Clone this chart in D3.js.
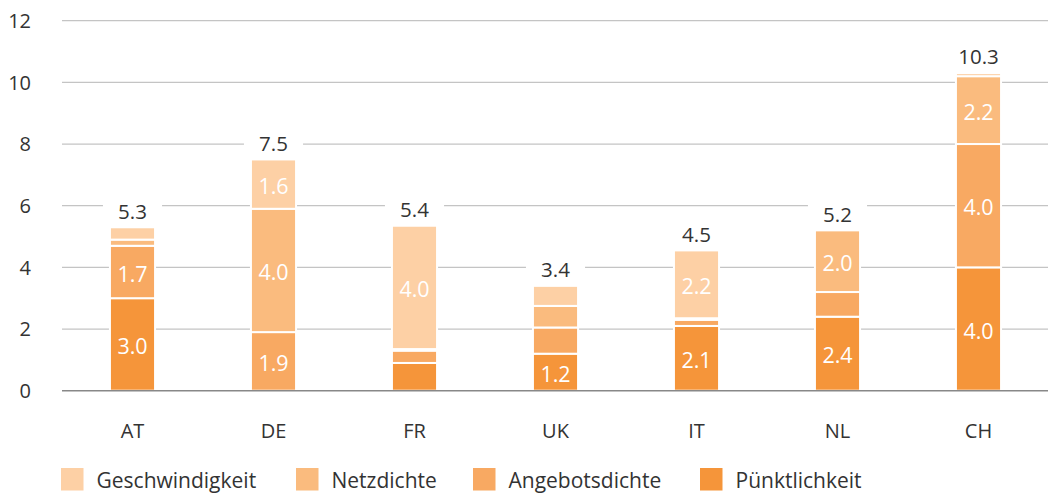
<!DOCTYPE html>
<html>
<head>
<meta charset="utf-8">
<script src="https://cdn.jsdelivr.net/npm/d3@7"></script>
<style>
  html, body { margin: 0; padding: 0; background: #fff; }
  svg { display: block; font-family: "Open Sans", "Noto Sans", sans-serif; }
</style>
</head>
<body>
<svg id="chart" width="1048" height="493"></svg>
<script>
// ---- data ----
const categories = ["AT", "DE", "FR", "UK", "IT", "NL", "CH"];
const seriesNames = ["Pünktlichkeit", "Angebotsdichte", "Netzdichte", "Geschwindigkeit"];
const puenktlichkeit = [3.0, 0.0, 0.9, 1.2, 2.1, 2.4, 4.0];
const angebotsdichte = [1.7, 1.9, 0.4, 0.85, 0.2, 0.8, 4.0];
const netzdichte = [0.2, 4.0, 0.05, 0.7, 0.05, 2.0, 2.2];
const geschwindigkeit = [0.4, 1.6, 4.0, 0.65, 2.2, 0.0, 0.1];
const totals = ["5.3", "7.5", "5.4", "3.4", "4.5", "5.2", "10.3"];
const yTicks = [0, 2, 4, 6, 8, 10, 12];
const legendOrder = ["Geschwindigkeit", "Netzdichte", "Angebotsdichte", "Pünktlichkeit"];

const colors = {
  "Pünktlichkeit": "#F5953A",
  "Angebotsdichte": "#F8A962",
  "Netzdichte": "#FABB7E",
  "Geschwindigkeit": "#FDD0A5"
};

const rows = categories.map((c, i) => ({
  cat: c,
  "Pünktlichkeit": puenktlichkeit[i],
  "Angebotsdichte": angebotsdichte[i],
  "Netzdichte": netzdichte[i],
  "Geschwindigkeit": geschwindigkeit[i],
  total: totals[i]
}));

const svg = d3.select("#chart");
const x = d3.scaleBand().domain(categories).range([62, 1049]).paddingInner(0.68).paddingOuter(0.34);
const y = d3.scaleLinear().domain([0, 12]).range([390.7, 20.7]);

// gridlines
const grid = svg.append("g");
grid.selectAll("line").data(yTicks.filter(d => d !== 0)).join("line")
  .attr("x1", 62).attr("x2", 1048)
  .attr("y1", d => y(d)).attr("y2", d => y(d))
  .attr("stroke", "#c4c4c4").attr("stroke-width", 1.3);

// y tick labels
svg.append("g").selectAll("text").data(yTicks).join("text")
  .attr("x", 31).attr("y", d => y(d))
  .attr("dy", "0.36em")
  .attr("text-anchor", "end")
  .attr("font-size", 20)
  .attr("fill", "#333")
  .text(d => d);

// stack
const stack = d3.stack().keys(seriesNames);
const stacked = stack(rows);

const bars = svg.append("g");
stacked.forEach(layer => {
  bars.append("g").attr("fill", colors[layer.key])
    .selectAll("rect").data(layer.filter(d => d[1] - d[0] > 0)).join("rect")
    .attr("x", d => x(d.data.cat))
    .attr("width", x.bandwidth())
    .attr("y", d => y(d[1]))
    .attr("height", d => y(d[0]) - y(d[1]))
    .attr("stroke", "#fff").attr("stroke-width", 2);
});

// inner labels
stacked.forEach(layer => {
  bars.append("g").selectAll("text").data(layer.filter(d => d[1] - d[0] >= 1)).join("text")
    .attr("x", d => x(d.data.cat) + x.bandwidth() / 2)
    .attr("y", d => (y(d[0]) + y(d[1])) / 2 + 2)
    .attr("dy", "0.36em")
    .attr("text-anchor", "middle")
    .attr("font-size", 21.5)
    .attr("fill", "#fff")
    .text(d => (d[1] - d[0]).toFixed(1));
});

// total labels with white background
const topLayer = stacked[stacked.length - 1];
const tg = svg.append("g");
tg.selectAll("rect").data(topLayer).join("rect")
  .attr("x", d => x(d.data.cat) - 7)
  .attr("width", x.bandwidth() + 14)
  .attr("y", d => y(d[1]) - 29)
  .attr("height", 26)
  .attr("fill", "#fff");
tg.selectAll("text").data(topLayer).join("text")
  .attr("x", d => x(d.data.cat) + x.bandwidth() / 2)
  .attr("y", d => y(d[1]) - 16)
  .attr("dy", "0.36em")
  .attr("text-anchor", "middle")
  .attr("font-size", 20.5)
  .attr("fill", "#333")
  .text(d => d.data.total);

// baseline
svg.append("line")
  .attr("x1", 62).attr("x2", 1048)
  .attr("y1", y(0)).attr("y2", y(0))
  .attr("stroke", "#888").attr("stroke-width", 1.5);

// x axis labels
const xAxis = d3.axisBottom(x).tickSize(0).tickPadding(0);
const xg = svg.append("g").attr("transform", `translate(0, ${y(0)})`).call(xAxis);
xg.select(".domain").remove();
xg.selectAll("text")
  .attr("y", 47).attr("dy", 0)
  .attr("font-size", 20)
  .attr("font-family", "Open Sans, Noto Sans, sans-serif")
  .attr("fill", "#333");

// legend
const legendX = [61, 296, 473, 700];
const lg = svg.append("g");
const items = lg.selectAll("g").data(legendOrder).join("g")
  .attr("transform", (d, i) => `translate(${legendX[i]}, 468)`);
items.append("rect").attr("width", 22.5).attr("height", 22.5).attr("fill", d => colors[d]);
items.append("text").attr("x", 35.5).attr("y", 19.5)
  .attr("font-size", 21).attr("fill", "#333").text(d => d);
</script>
</body>
</html>
